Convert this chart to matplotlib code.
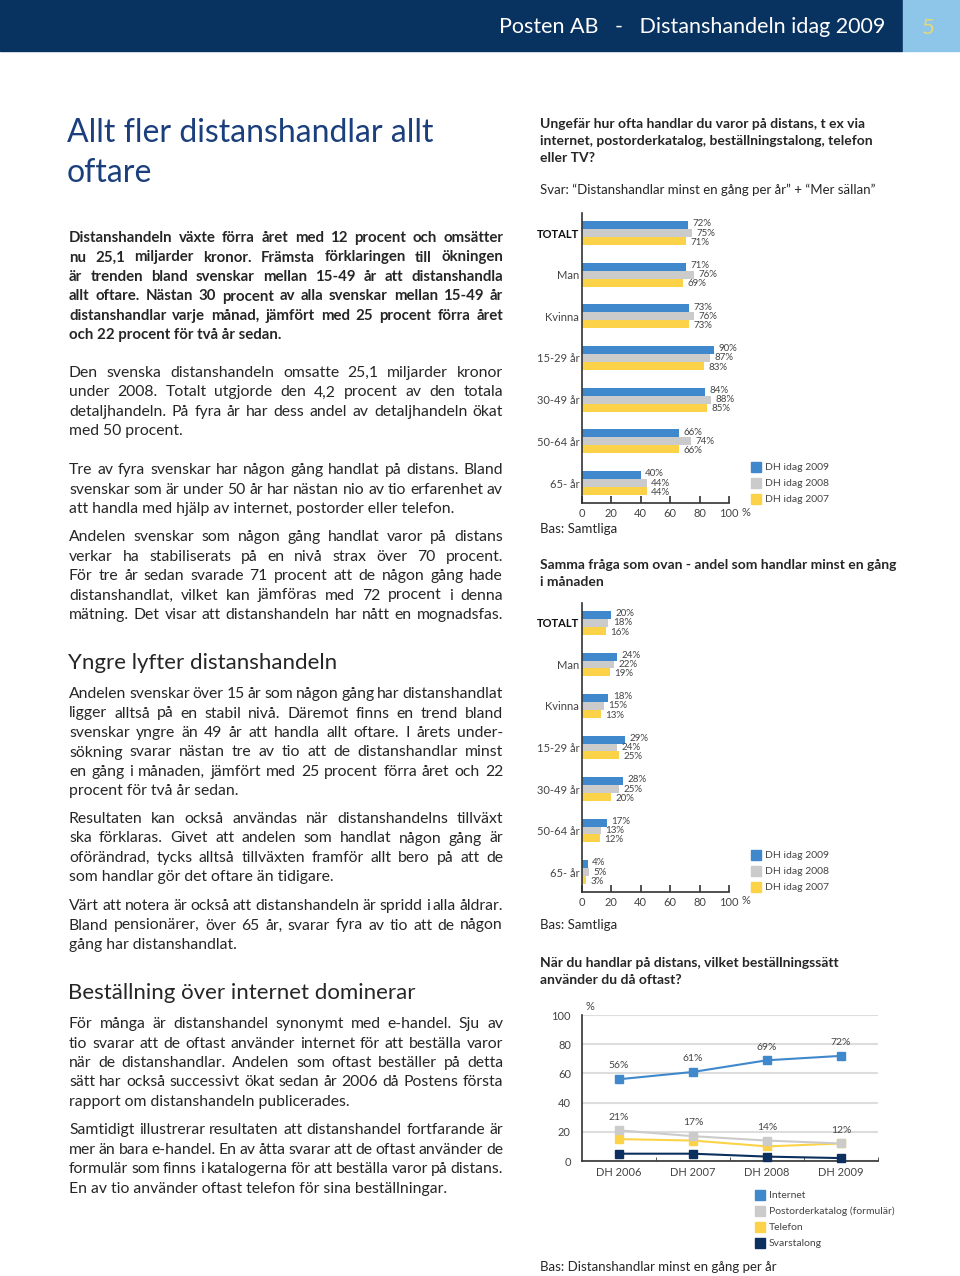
import matplotlib
matplotlib.use("Agg")
import matplotlib.pyplot as plt
from matplotlib.patches import Rectangle
import numpy as np

plt.rcParams["font.family"] = ["Lato", "DejaVu Sans"]

# data
groups = ["TOTALT", "Man", "Kvinna", "15-29 år", "30-49 år", "50-64 år", "65- år"]
years = ["DH idag 2009", "DH idag 2008", "DH idag 2007"]
yearly_2009 = [72, 71, 73, 90, 84, 66, 40]
yearly_2008 = [75, 76, 76, 87, 88, 74, 44]
yearly_2007 = [71, 69, 73, 83, 85, 66, 44]
monthly_2009 = [20, 24, 18, 29, 28, 17, 4]
monthly_2008 = [18, 22, 15, 24, 25, 13, 5]
monthly_2007 = [16, 19, 13, 25, 20, 12, 3]

line_years = ["DH 2006", "DH 2007", "DH 2008", "DH 2009"]
methods = ["Internet", "Postorderkatalog (formulär)", "Telefon", "Svarstalong"]
internet = [56, 61, 69, 72]
postorder = [21, 17, 14, 12]
telefon = [15, 14, 10, 12]
svarstalong = [5, 5, 3, 2]

BLUE = "#3f88cc"
GRAY = "#cbcbcb"
YELLOW = "#fcd348"
NAVY = "#0b2f5e"
TXT = "#262626"

W, H = 960, 1276
fig = plt.figure(figsize=(9.6, 12.76), dpi=100)


def fx(x):
    return x / W


def fy(y):
    return 1 - y / H


def ax_at(x0, y0, x1, y1):
    return fig.add_axes([fx(x0), fy(y1), (x1 - x0) / W, (y1 - y0) / H])


# header
fig.patches.append(Rectangle((0, fy(51)), fx(902), 51 / H, transform=fig.transFigure,
                             color="#08325f", zorder=0))
fig.patches.append(Rectangle((fx(903), fy(51)), fx(57), 51 / H, transform=fig.transFigure,
                             color="#8ec6ea", zorder=0))
fig.text(fx(885), fy(27), "Posten AB   -   Distanshandeln idag 2009", color="white",
         fontsize=15.5, ha="right", va="center")
fig.text(fx(928), fy(28), "5", color="#e4d77a", fontsize=16, ha="center", va="center")

# title
fig.text(fx(67), fy(133), "Allt fler distanshandlar allt", color="#1b3f7c", fontsize=23,
         va="center")
fig.text(fx(67), fy(173), "oftare", color="#1b3f7c", fontsize=23, va="center")

renderer = fig.canvas.get_renderer()


def justified(lines, y0, step=19.5, x0=69, x1=503, size=11.3, weight="normal", last_full=False):
    for i, line in enumerate(lines):
        y = fy(y0 + i * step + 5)
        words = line.split()
        if (i == len(lines) - 1 and not last_full) or len(words) == 1:
            fig.text(fx(x0), y, line, fontsize=size, fontweight=weight, color=TXT,
                     va="baseline")
            continue
        objs = [fig.text(0, y, w, fontsize=size, fontweight=weight, color=TXT, va="baseline")
                for w in words]
        widths = [o.get_window_extent(renderer).width for o in objs]
        gap = (x1 - x0 - sum(widths)) / (len(words) - 1)
        x = x0
        for o, w in zip(objs, widths):
            o.set_x(fx(x))
            x += w + gap


justified(["Distanshandeln växte förra året med 12 procent och omsätter",
           "nu 25,1 miljarder kronor. Främsta förklaringen till ökningen",
           "är trenden bland svenskar mellan 15-49 år att distanshandla",
           "allt oftare. Nästan 30 procent av alla svenskar mellan 15-49 år",
           "distanshandlar varje månad, jämfört med 25 procent förra året",
           "och 22 procent för två år sedan."], 237, size=10.8, weight="bold")
justified(["Den svenska distanshandeln omsatte 25,1 miljarder kronor",
           "under 2008. Totalt utgjorde den 4,2 procent av den totala",
           "detaljhandeln. På fyra år har dess andel av detaljhandeln ökat",
           "med 50 procent."], 372)
justified(["Tre av fyra svenskar har någon gång handlat på distans. Bland",
           "svenskar som är under 50 år har nästan nio av tio erfarenhet av",
           "att handla med hjälp av internet, postorder eller telefon."], 469)
justified(["Andelen svenskar som någon gång handlat varor på distans",
           "verkar ha stabiliserats på en nivå strax över 70 procent.",
           "För tre år sedan svarade 71 procent att de någon gång hade",
           "distanshandlat, vilket kan jämföras med 72 procent i denna",
           "mätning.  Det visar att distanshandeln har nått en mognadsfas."], 536, last_full=True)

fig.text(fx(68), fy(663), "Yngre lyfter distanshandeln", fontsize=16, color=TXT, va="center")
justified(["Andelen svenskar över 15 år som någon gång har distanshandlat",
           "ligger alltså på en stabil nivå. Däremot finns en trend bland",
           "svenskar yngre än 49 år att handla allt oftare. I årets under-",
           "sökning svarar nästan tre av tio att de distanshandlar minst",
           "en gång i månaden, jämfört med 25 procent förra året och 22",
           "procent för två år sedan."], 693)
justified(["Resultaten kan också användas när distanshandelns tillväxt",
           "ska förklaras. Givet att andelen som handlat någon gång är",
           "oförändrad, tycks alltså tillväxten framför allt bero på att de",
           "som handlar gör det oftare än tidigare."], 818)
justified(["Värt att notera är också att distanshandeln är spridd i alla åldrar.",
           "Bland pensionärer, över 65 år, svarar fyra av tio att de någon",
           "gång har distanshandlat."], 905)

fig.text(fx(68), fy(993), "Beställning över internet dominerar", fontsize=16, color=TXT,
         va="center")
justified(["För många är distanshandel synonymt med e-handel. Sju av",
           "tio svarar att de oftast använder internet för att beställa varor",
           "när de distanshandlar.  Andelen som oftast beställer på detta",
           "sätt har också successivt ökat sedan år 2006 då Postens första",
           "rapport om distanshandeln publicerades."], 1023)
justified(["Samtidigt illustrerar resultaten att distanshandel fortfarande är",
           "mer än bara e-handel. En av åtta svarar att de oftast använder de",
           "formulär som finns i katalogerna för att beställa varor på distans.",
           "En av tio använder oftast telefon för sina beställningar."], 1129)

# right column texts
for i, t in enumerate(["Ungefär hur ofta handlar du varor på distans, t ex via",
                       "internet, postorderkatalog, beställningstalong, telefon",
                       "eller TV?"]):
    fig.text(fx(540), fy(124 + i * 17), t, fontsize=10, fontweight="bold", color=TXT,
             va="center")
fig.text(fx(540), fy(190), "Svar: \u201cDistanshandlar minst en gång per år\u201d + \u201cMer sällan\u201d",
         fontsize=9.5, color=TXT, va="center")
fig.text(fx(540), fy(529), "Bas: Samtliga", fontsize=9.5, color=TXT, va="center")
fig.text(fx(540), fy(565), "Samma fråga som ovan - andel som handlar minst en gång",
         fontsize=10, fontweight="bold", color=TXT, va="center")
fig.text(fx(540), fy(582), "i månaden", fontsize=10, fontweight="bold", color=TXT, va="center")
fig.text(fx(540), fy(925), "Bas: Samtliga", fontsize=9.5, color=TXT, va="center")
fig.text(fx(540), fy(963), "När du handlar på distans, vilket beställningssätt",
         fontsize=10, fontweight="bold", color=TXT, va="center")
fig.text(fx(540), fy(980), "använder du då oftast?", fontsize=10, fontweight="bold",
         color=TXT, va="center")
fig.text(fx(540), fy(1267), "Bas: Distanshandlar minst en gång per år", fontsize=9.5,
         color=TXT, va="center")


def bar_chart(y_top, y_bot, v09, v08, v07, legend_y):
    ax = ax_at(582, y_top, 729, y_bot)
    pos = np.arange(len(groups))
    h = 0.19
    for vals, off, col in [(v09, -h, BLUE), (v08, 0, GRAY), (v07, h, YELLOW)]:
        ax.barh(pos + off, vals, height=h, color=col, clip_on=False)
        for p, v in zip(pos, vals):
            ax.text(v + 3, p + off * 1.15, f"{v}%", fontsize=7, color="#444444", va="center")
    ax.set_xlim(0, 100)
    ax.set_ylim(len(groups) - 0.52, -0.48)
    ax.set_yticks(pos)
    ax.set_yticklabels(groups, fontsize=8, color="#444444")
    ax.get_yticklabels()[0].set_fontweight("bold")
    ax.get_yticklabels()[0].set_color("#111111")
    ax.tick_params(axis="y", length=0, pad=2)
    ax.set_xticks([0, 20, 40, 60, 80, 100])
    ax.tick_params(axis="x", direction="in", length=5, labelsize=8, labelcolor="#444444",
                   color="#333333", width=1.2)
    for s in ["top", "right"]:
        ax.spines[s].set_visible(False)
    for s in ["left", "bottom"]:
        ax.spines[s].set_color("#333333")
        ax.spines[s].set_linewidth(1.2)
    ax.set_facecolor("none")
    fig.text(fx(742), fy(y_bot + 9), "%", fontsize=8, color="#444444", va="center")
    for i, (lab, col) in enumerate(zip(years, [BLUE, GRAY, YELLOW])):
        yy = legend_y + i * 16
        fig.patches.append(Rectangle((fx(751), fy(yy + 5)), 10 / W, 10 / H,
                                     transform=fig.transFigure, color=col))
        fig.text(fx(765), fy(yy), lab, fontsize=7.5, color="#444444", va="center")


bar_chart(213, 503, yearly_2009, yearly_2008, yearly_2007, 467)
bar_chart(603, 892, monthly_2009, monthly_2008, monthly_2007, 855)

# line chart
ax = ax_at(582, 1015, 878, 1161)
x = np.arange(len(line_years))
series = [(internet, BLUE, True), (postorder, GRAY, True), (telefon, YELLOW, False),
          (svarstalong, NAVY, False)]
for vals, col, lab in series[::-1]:
    ax.plot(x, vals, color=col, marker="s", markersize=5.5, linewidth=1.5, clip_on=False,
            zorder=3)
    if lab:
        for xi, v in zip(x, vals):
            ax.text(xi, v + 6, f"{v}%", fontsize=7.5, color="#444444", ha="center", va="bottom")
ax.set_xlim(-0.5, 3.5)
ax.set_ylim(0, 100)
ax.set_yticks([0, 20, 40, 60, 80, 100])
ax.yaxis.grid(True, color="#dddddd", linewidth=1.5)
ax.set_axisbelow(True)
ax.set_xticks(x)
ax.set_xticklabels(line_years)
ax.set_xticks([0.5, 1.5, 2.5, 3.5], minor=True)
ax.tick_params(axis="x", which="major", length=0, labelsize=8, labelcolor="#444444", pad=4)
ax.tick_params(axis="x", which="minor", direction="in", length=3, color="#333333")
ax.tick_params(axis="y", length=0, labelsize=8, labelcolor="#444444", pad=8)
for s in ["top", "right"]:
    ax.spines[s].set_visible(False)
for s in ["left", "bottom"]:
    ax.spines[s].set_color("#333333")
    ax.spines[s].set_linewidth(1.2)
fig.text(fx(585), fy(1006), "%", fontsize=8, color="#444444", va="center")
for i, (lab, col) in enumerate(zip(methods, [BLUE, GRAY, YELLOW, NAVY])):
    yy = 1195 + i * 16
    fig.patches.append(Rectangle((fx(755), fy(yy + 5)), 10 / W, 10 / H,
                                 transform=fig.transFigure, color=col))
    fig.text(fx(769), fy(yy), lab, fontsize=7.5, color="#444444", va="center")

fig.savefig("out.png", dpi=100)
